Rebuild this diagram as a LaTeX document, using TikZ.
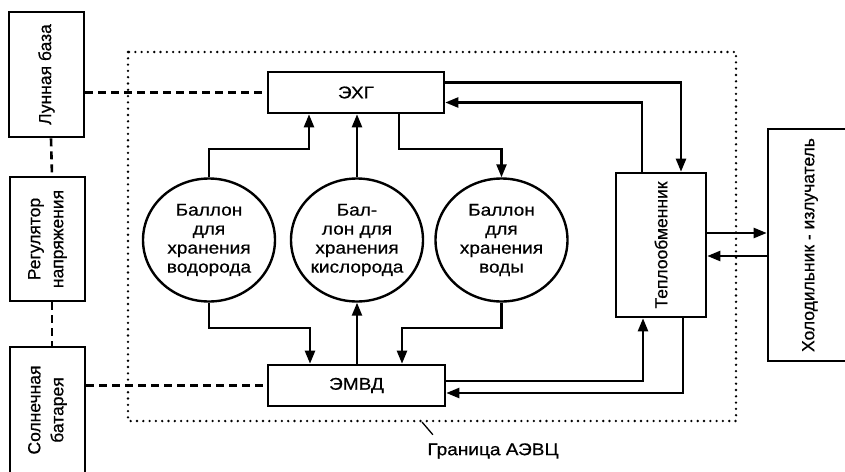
\documentclass[tikz,border=0pt]{standalone}
\usepackage{fontspec}
\setmainfont{Liberation Sans}[FakeStretch=1.12, FakeBold=0.6]
\newfontfamily\upfont{Liberation Sans}[FakeBold=0.6]
\usetikzlibrary{positioning, arrows.meta, shapes.geometric}

\begin{document}
\begin{tikzpicture}[
    x=1pt, y=-1pt,
    block/.style={rectangle, draw, line width=2.6pt, align=center, font=\fontsize{17}{19}\selectfont},
    vblock/.style={block, rotate=90, font=\upfont\fontsize{17.5}{23}\selectfont},
    tank/.style={ellipse, draw, line width=2.4pt, minimum width=132pt, minimum height=123pt, inner sep=0pt, align=center, font=\fontsize{17}{19}\selectfont},
    flow/.style={-{Triangle[length=13pt, width=10pt]}, line width=2.3pt},
    link/.style={line width=2.6pt, dash pattern=on 8pt off 5pt},
    border/.style={line width=2.6pt, line cap=round, dash pattern=on 0pt off 6.3pt}
]
    \useasboundingbox (0,0) rectangle (845,471);
    \clip (0,0) rectangle (845,471);

    % Outer blocks
    \node[vblock, minimum width=125pt, minimum height=75pt] (luna) at (46.5,74.5) {Лунная база};
    \node[vblock, minimum width=124pt, minimum height=75pt] (reg) at (47.5,239) {Регулятор\\напряжения};
    \node[vblock, minimum width=126pt, minimum height=75pt] (sun) at (47.5,410) {Солнечная\\батарея};
    \node[vblock, minimum width=232pt, minimum height=84pt] (cool) at (810,245) {Холодильник - излучатель};

    % Inner blocks
    \node[block, minimum width=176pt, minimum height=41pt] (exg) at (356,92.5) {ЭХГ};
    \node[block, minimum width=177pt, minimum height=41pt] (emvd) at (356.5,385.5) {ЭМВД};
    \node[vblock, minimum width=144pt, minimum height=90pt] (heat) at (661,245) {Теплообменник};

    % Tanks
    \node[tank] (h2) at (209,240) {Баллон\\для\\хранения\\водорода};
    \node[tank] (o2) at (357,240) {Бал-\\лон для\\хранения\\кислорода};
    \node[tank] (h2o) at (501.5,240) {Баллон\\для\\хранения\\воды};

    \coordinate (upbus) at (0,149);
    \coordinate (lowbus) at (0,328);

    % Boundary
    \draw[border] (128,52) rectangle (736,421);
    \node[font=\fontsize{17}{19}\selectfont] (lbl) at (493,451) {Граница АЭВЦ};
    \coordinate (tick) at (422,422);
    \draw[line width=1.3pt] (tick) -- ([xshift=9pt, yshift=5pt]lbl.north west);

    % Power links
    \draw[link] (luna.south |- exg.west) -- (exg.west);
    \draw[link] (sun.south |- emvd.west) -- (emvd.west);
    \draw[link] ([xshift=4.5pt]luna.west) -- ([xshift=4.5pt]reg.east);
    \draw[link] ([xshift=4.5pt]reg.west) -- ([xshift=4.5pt]sun.east);

    % Tanks and ЭХГ
    \draw[flow] (h2.north) -- (h2.north |- upbus) -| ([xshift=-47pt]exg.south);
    \draw[flow] (o2.north) -- (o2.north |- exg.south);
    \draw[flow] ([xshift=43pt]exg.south) |- (h2o.north |- upbus) -- (h2o.north);

    % Tanks and ЭМВД
    \draw[flow] (h2.south) -- (h2.south |- lowbus) -| ([xshift=-46.5pt]emvd.north);
    \draw[flow] (o2.south |- emvd.north) -- (o2.south);
    \draw[flow] (h2o.south) -- (h2o.south |- lowbus) -| ([xshift=45.5pt]emvd.north);

    % Heat exchanger loops
    \draw[flow] ([yshift=10pt]exg.east) -| ([xshift=20pt]heat.east);
    \draw[flow] ([xshift=-19pt]heat.east) |- ([yshift=-10pt]exg.east);
    \draw[flow] ([yshift=4.5pt]emvd.east) -| ([xshift=-18pt]heat.west);
    \draw[flow] ([xshift=22pt]heat.west) |- ([yshift=-7.5pt]emvd.east);
    \draw[flow] ([yshift=12pt]heat.south) -- ([yshift=12pt]cool.north);
    \draw[flow] ([yshift=-11pt]cool.north) -- ([yshift=-11pt]heat.south);

\end{tikzpicture}
\end{document}
